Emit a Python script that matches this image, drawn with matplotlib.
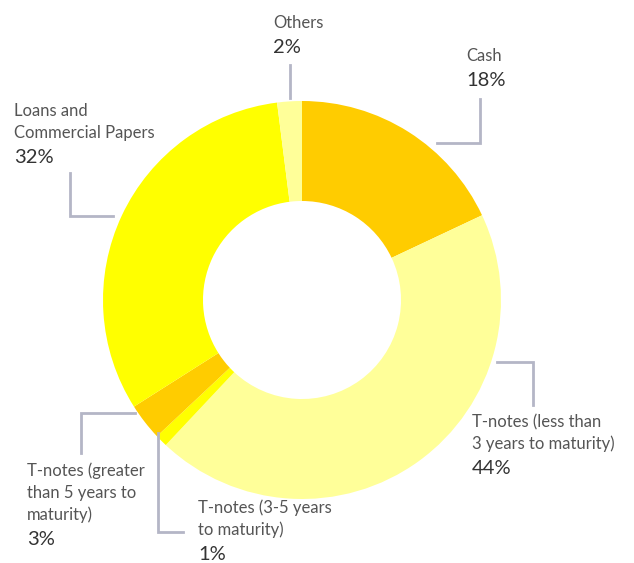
import matplotlib
matplotlib.use("Agg")
import matplotlib.pyplot as plt

# portfolio breakdown, clockwise from 12 o'clock
labels = ["Cash", "T-notes (less than\n3 years to maturity)", "T-notes (3-5 years\nto maturity)",
          "T-notes (greater\nthan 5 years to\nmaturity)", "Loans and\nCommercial Papers", "Others"]
shares = [18, 44, 1, 3, 32, 2]
colors = ["#FFCC00", "#FFFF99", "#FFFF00", "#FFCC00", "#FFFF00", "#FFFF99"]

W, H = 634, 563
plt.rcParams['font.family'] = ['Lato', 'DejaVu Sans']

fig = plt.figure(figsize=(W / 100, H / 100), dpi=100)
ax = fig.add_axes([0, 0, 1, 1])

cx, cy, r = 302, H - 300, 199
ax.pie(shares, colors=colors, startangle=90, counterclock=False,
       center=(cx, cy), radius=r, wedgeprops=dict(width=r - 99, linewidth=0),
       frame=True)
ax.set_xlim(0, W)
ax.set_ylim(0, H)
ax.set_aspect('equal')
ax.axis('off')

# label positions (pixel coords, top-left origin): x, y of first line
text_pos = [(466, 56), (472, 422), (198, 508), (27, 471), (14, 111), (273, 23)]
leaders = [
    [(437, 143), (480, 143), (480, 99)],
    [(497, 362), (533, 362), (533, 405)],
    [(183, 532), (158, 532), (158, 433)],
    [(135, 413), (81, 413), (81, 453)],
    [(113, 216), (70, 216), (70, 173)],
    [(290, 98), (290, 65)],
]

line_h = 21.8
for lab, val, (tx, ty), pts in zip(labels, shares, text_pos, leaders):
    lines = lab.split("\n")
    for i, ln in enumerate(lines):
        ax.text(tx, H - (ty + i * line_h), ln, fontsize=12, color="#555555",
                va='center', ha='left')
    ax.text(tx, H - (ty + len(lines) * line_h + 3), f"{val}%", fontsize=14.5,
            color="#333333", va='center', ha='left')
    xs = [p[0] for p in pts]
    ys = [H - p[1] for p in pts]
    ax.plot(xs, ys, color="#B4B6C6", lw=2, solid_joinstyle='miter')

fig.savefig("out.png", dpi=100, facecolor="white")
